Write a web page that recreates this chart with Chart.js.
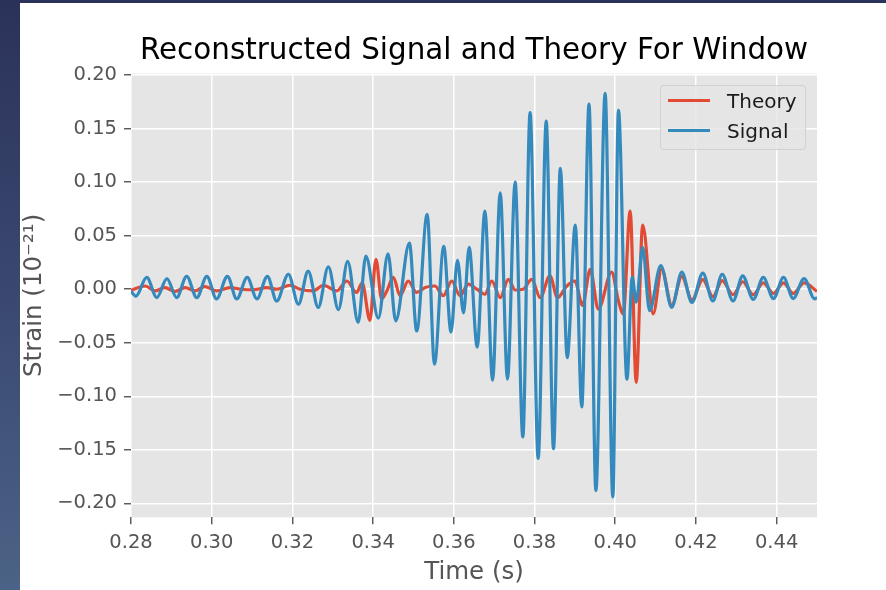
<!DOCTYPE html>
<html>
<head>
<meta charset="utf-8">
<title>Reconstructed Signal and Theory For Window</title>
<script src="https://cdn.jsdelivr.net/npm/chart.js@4.4.1/dist/chart.umd.min.js"></script>
<style>
  html, body { margin: 0; padding: 0; overflow: hidden; }
  body {
    width: 886px; height: 590px; position: relative;
    background: linear-gradient(180deg, #2b3259 0%, #3a4870 50%, #4b6386 100%);
    font-family: "DejaVu Sans", sans-serif;
  }
  #panel { position: absolute; left: 20px; top: 3px; right: 0; bottom: 0; background: #ffffff; }
  #chart { position: absolute; left: 20px; top: 3px; }
  #legend {
    position: absolute; width: 146px; height: 65px; box-sizing: border-box;
    background: rgba(229, 229, 229, 0.8); border: 1px solid rgba(204, 204, 204, 0.8);
    border-radius: 4px;
  }
  .lg-row { display: flex; align-items: center; height: 30px; padding-left: 7px; }
  .lg-line { width: 42px; height: 3px; margin-right: 17px; }
  .lg-text { font-size: 20px; color: #1a1a1a; line-height: 30px; }
</style>
</head>
<body>
<div id="panel"></div>
<canvas id="chart" width="866" height="587"></canvas>
<div id="legend"></div>
<script>
const FONT = '"DejaVu Sans", sans-serif';

// time axis (s) and tick labels
const xTicks = [0.28, 0.30, 0.32, 0.34, 0.36, 0.38, 0.40, 0.42, 0.44];
const xTickLabels = ["0.28", "0.30", "0.32", "0.34", "0.36", "0.38", "0.40", "0.42", "0.44"];
const xMin = 0.28;
const xMax = 0.45;

// strain axis (10^-21) and tick labels
const yTicks = [-0.20, -0.15, -0.10, -0.05, 0.00, 0.05, 0.10, 0.15, 0.20];
const yTickLabels = ["\u22120.20", "\u22120.15", "\u22120.10", "\u22120.05", "0.00", "0.05", "0.10", "0.15", "0.20"];
const yMin = -0.213;
const yMax = 0.2015;

// reconstructed signal: turning points
const signalTime = [
  0.2800, 0.2812, 0.2839, 0.2864, 0.2889, 0.2913, 0.2938, 0.2963, 0.2988, 0.3012,
  0.3039, 0.3062, 0.3088, 0.3112, 0.3138, 0.3161, 0.3190, 0.3215, 0.3239, 0.3264,
  0.3289, 0.3314, 0.3337, 0.3363, 0.3382, 0.3413, 0.3437, 0.3456, 0.3490, 0.3508,
  0.3534, 0.3552, 0.3575, 0.3593, 0.3609, 0.3624, 0.3638, 0.3658, 0.3677, 0.3696,
  0.3715, 0.3733, 0.3752, 0.3771, 0.3789, 0.3809, 0.3829, 0.3847, 0.3864, 0.3881,
  0.3901, 0.3917, 0.3935, 0.3952, 0.3975, 0.3994, 0.4008, 0.4029, 0.4042, 0.4052,
  0.4068, 0.4085, 0.4113, 0.4140, 0.4165, 0.4190, 0.4217, 0.4242, 0.4265, 0.4292,
  0.4316, 0.4342, 0.4367, 0.4392, 0.4417, 0.4441, 0.4468, 0.4494, 0.4500
];
const signalStrain = [
  -0.002, -0.0065, 0.011, -0.0078, 0.010, -0.0078, 0.012, -0.0078, 0.012, -0.009,
  0.012, -0.009, 0.011, -0.009, 0.012, -0.011, 0.014, -0.014, 0.017, -0.017,
  0.021, -0.019, 0.026, -0.031, 0.031, -0.027, 0.033, -0.0295, 0.043, -0.039,
  0.070, -0.070, 0.040, -0.040, 0.027, -0.022, 0.039, -0.054, 0.073, -0.085,
  0.090, -0.084, 0.100, -0.138, 0.165, -0.158, 0.157, -0.149, 0.113, -0.064,
  0.060, -0.110, 0.173, -0.188, 0.183, -0.194, 0.167, -0.084, 0.011, -0.012,
  0.039, -0.020, 0.022, -0.017, 0.016, -0.0124, 0.015, -0.011, 0.014, -0.011,
  0.0124, -0.0095, 0.011, -0.0087, 0.011, -0.0087, 0.010, -0.009, -0.008
];

// theory template
const theoryTime = [
  0.2800, 0.2835, 0.2860, 0.2884, 0.2909, 0.2934, 0.2959, 0.2983, 0.3012, 0.3045,
  0.3074, 0.3103, 0.3136, 0.3161, 0.3194, 0.3219, 0.3252, 0.3277, 0.3310, 0.3335,
  0.3359, 0.3373, 0.3392, 0.3407, 0.3421, 0.3434, 0.3450, 0.3467, 0.3487, 0.3508,
  0.3529, 0.3553, 0.3574, 0.3595, 0.3615, 0.3636, 0.3657, 0.3677, 0.3694, 0.3715,
  0.3735, 0.3752, 0.3772, 0.3793, 0.3814, 0.3838, 0.3857, 0.3880, 0.3900, 0.3919,
  0.3938, 0.3958, 0.3991, 0.4008, 0.4020, 0.4037, 0.4052, 0.4068, 0.4094, 0.4115,
  0.4140, 0.4165, 0.4190, 0.4217, 0.4242, 0.4265, 0.4292, 0.4316, 0.4342, 0.4367,
  0.4392, 0.4417, 0.4441, 0.4468, 0.4500
];
const theoryStrain = [
  -0.001, 0.003, -0.0015, 0.0015, -0.002, 0.0015, -0.0015, 0.0025, -0.0015, 0.0015,
  0.0, -0.0005, 0.0015, 0.0, 0.0037, 0.0, -0.0015, 0.0037, -0.0015, 0.0077,
  -0.003, 0.006, -0.029, 0.028, -0.009, -0.0016, 0.011, -0.006, 0.0077, -0.003,
  0.0016, 0.003, -0.006, 0.0077, -0.006, 0.0047, 0.0, -0.0047, 0.0077, -0.0078,
  0.0093, -0.0007, 0.0, 0.0093, -0.0078, 0.0124, -0.0078, 0.003, 0.0077, -0.015,
  0.0186, -0.0186, 0.016, -0.011, -0.023, 0.073, -0.087, 0.060, -0.023, 0.019,
  -0.015, 0.012, -0.010, 0.009, -0.007, 0.008, -0.005, 0.007, -0.005, 0.006,
  -0.004, 0.006, -0.004, 0.006, -0.002
];

function toPoints(xs, ys) {
  return xs.map((x, i) => ({ x: x, y: ys[i] }));
}

// grey ggplot-style panel behind the grid
const panelBg = {
  id: "panelBg",
  beforeDraw(chart) {
    const a = chart.chartArea;
    const ctx = chart.ctx;
    ctx.save();
    ctx.fillStyle = "#e5e5e5";
    ctx.fillRect(a.left, a.top, a.right - a.left, a.bottom - a.top);
    ctx.restore();
  },
};

function renderLegend(chart) {
  const el = document.getElementById("legend");
  const a = chart.chartArea;
  el.style.left = (20 + a.right - 11 - 146) + "px";
  el.style.top = (3 + a.top + 11.5) + "px";
  el.innerHTML = chart.data.datasets
    .map(
      (ds) => `
      <div class="lg-row">
        <div class="lg-line" style="background:${ds.borderColor}"></div>
        <div class="lg-text">${ds.label}</div>
      </div>`
    )
    .join("");
}

const chart = new Chart(document.getElementById("chart"), {
  type: "line",
  data: {
    datasets: [
      {
        label: "Theory",
        data: toPoints(theoryTime, theoryStrain),
        borderColor: "#E24A33",
        borderWidth: 3.2,
        pointRadius: 0,
        cubicInterpolationMode: "monotone",
        borderJoinStyle: "round",
        order: 1,
      },
      {
        label: "Signal",
        data: toPoints(signalTime, signalStrain),
        borderColor: "#348ABD",
        borderWidth: 3.2,
        pointRadius: 0,
        cubicInterpolationMode: "monotone",
        borderJoinStyle: "round",
        order: 0,
      },
    ],
  },
  options: {
    responsive: false,
    animation: false,
    events: [],
    layout: { padding: { left: 0, right: 69, top: 0, bottom: 0 } },
    plugins: {
      legend: { display: false },
      tooltip: { enabled: false },
      title: {
        display: true,
        fullSize: false,
        text: "Reconstructed Signal and Theory For Window",
        color: "#000000",
        font: { family: FONT, size: 29.4, weight: "normal" },
        padding: { top: 31, bottom: 4.2 },
      },
    },
    scales: {
      x: {
        type: "linear",
        min: xMin,
        max: xMax,
        afterBuildTicks: (s) => { s.ticks = xTicks.map((v) => ({ value: v })); },
        afterFit: (s) => { s.height = 72.7; },
        ticks: {
          autoSkip: false,
          maxRotation: 0,
          callback: (v, i) => xTickLabels[i],
          color: "#555555",
          font: { family: FONT, size: 19.5 },
          padding: 7,
        },
        grid: { color: "#ffffff", lineWidth: 1.5, tickColor: "#555555", tickLength: 7, tickWidth: 1.4 },
        border: { display: false },
        title: {
          display: true,
          text: "Time (s)",
          color: "#555555",
          font: { family: FONT, size: 24.5 },
          padding: { top: 0, bottom: 3 },
        },
      },
      y: {
        type: "linear",
        min: yMin,
        max: yMax,
        afterBuildTicks: (s) => { s.ticks = yTicks.map((v) => ({ value: v })); },
        afterFit: (s) => { s.width = 111; },
        ticks: {
          autoSkip: false,
          callback: (v, i) => yTickLabels[i],
          color: "#555555",
          font: { family: FONT, size: 19.5 },
          padding: 7,
        },
        grid: { color: "#ffffff", lineWidth: 1.5, tickColor: "#555555", tickLength: 7, tickWidth: 1.4 },
        border: { display: false },
        title: {
          display: true,
          text: "Strain (10\u207B\u00B2\u00B9)",
          color: "#555555",
          font: { family: FONT, size: 24.5 },
          padding: { top: 0, bottom: 0 },
        },
      },
    },
  },
  plugins: [panelBg],
});

renderLegend(chart);
</script>
</body>
</html>
